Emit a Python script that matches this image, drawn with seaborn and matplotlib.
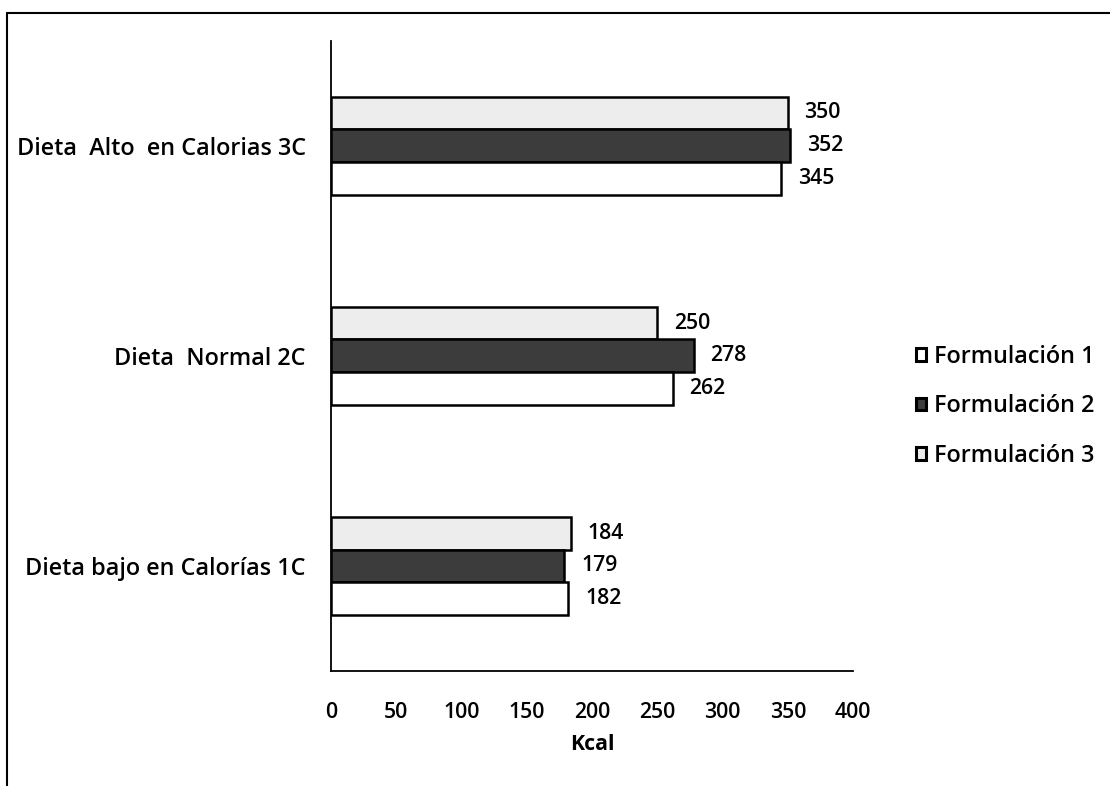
import matplotlib
matplotlib.use("Agg")
import matplotlib.pyplot as plt
from matplotlib.patches import Patch
from matplotlib.lines import Line2D
import seaborn as sns
import pandas as pd

# Diet categories, top to bottom
categories = ["Dieta  Alto  en Calorias 3C", "Dieta  Normal 2C", "Dieta bajo en Calorías 1C"]
series_names = ["Formulación 1", "Formulación 2", "Formulación 3"]
formulacion_1 = [345, 262, 182]
formulacion_2 = [352, 278, 179]
formulacion_3 = [350, 250, 184]
x_ticks = [0, 50, 100, 150, 200, 250, 300, 350, 400]

values = {
    "Formulación 1": formulacion_1,
    "Formulación 2": formulacion_2,
    "Formulación 3": formulacion_3,
}
rows = []
for name in series_names:
    for cat, v in zip(categories, values[name]):
        rows.append({"Dieta": cat, "Formulación": name, "Kcal": v})
df = pd.DataFrame(rows)

colors = {"Formulación 1": "#ffffff", "Formulación 2": "#3c3c3c", "Formulación 3": "#ededed"}

sns.set_theme(style="white")
plt.rcParams["font.family"] = ["Open Sans", "DejaVu Sans"]
plt.rcParams["font.stretch"] = "normal"
plt.rcParams["text.color"] = "black"
plt.rcParams["axes.labelcolor"] = "black"
plt.rcParams["xtick.color"] = "black"
plt.rcParams["ytick.color"] = "black"

TEXT_W = "semibold"
LABEL_FS = 16.8
NUM_FS = 15.3

fig = plt.figure(figsize=(11.1, 7.86), dpi=100)
ax = fig.add_axes([0.298, 0.1463, 0.4705, 0.8017])

# Series 3 drawn on top of each group, series 1 at the bottom
draw_order = ["Formulación 3", "Formulación 2", "Formulación 1"]
sns.barplot(data=df, y="Dieta", x="Kcal", hue="Formulación", hue_order=draw_order,
            order=categories, orient="h", palette=colors, width=0.47,
            edgecolor="black", linewidth=1.8, ax=ax, legend=False, saturation=1)

for container in ax.containers:
    ax.bar_label(container, padding=12, fontsize=NUM_FS, fontweight=TEXT_W, color="black")

ax.set_xlim(0, 400)
ax.set_ylim(2.5, -0.5)
ax.set_xticks(x_ticks)
ax.set_xticklabels([str(t) for t in x_ticks], fontsize=NUM_FS, fontweight=TEXT_W)
ax.tick_params(axis="x", direction="out", length=6, width=1.2, color="black", pad=16)
ax.tick_params(axis="y", length=0, pad=18)
for lbl in ax.get_yticklabels():
    lbl.set_fontsize(LABEL_FS)
    lbl.set_fontweight(TEXT_W)
ax.set_ylabel("")
ax.set_xlabel("Kcal", fontsize=NUM_FS, fontweight="bold", labelpad=8)
for side in ["top", "right"]:
    ax.spines[side].set_visible(False)
for side in ["left", "bottom"]:
    ax.spines[side].set_color("black")
    ax.spines[side].set_linewidth(1.3)

handles = [Patch(facecolor=colors[n], edgecolor="black", linewidth=2.2) for n in series_names]
fig.legend(handles, series_names, loc="center left", bbox_to_anchor=(0.806, 0.483),
           frameon=False, prop={"size": LABEL_FS, "weight": TEXT_W},
           handlelength=0.45, handleheight=0.45, handletextpad=0.35, labelspacing=1.1)

# Outer frame lines at top and left
fig.add_artist(Line2D([0.0063, 1.0], [0.9835, 0.9835], transform=fig.transFigure,
                      color="black", linewidth=1.5))
fig.add_artist(Line2D([0.0063, 0.0063], [0.0, 0.9835], transform=fig.transFigure,
                      color="black", linewidth=1.5))

fig.savefig("out.png", dpi=100)
